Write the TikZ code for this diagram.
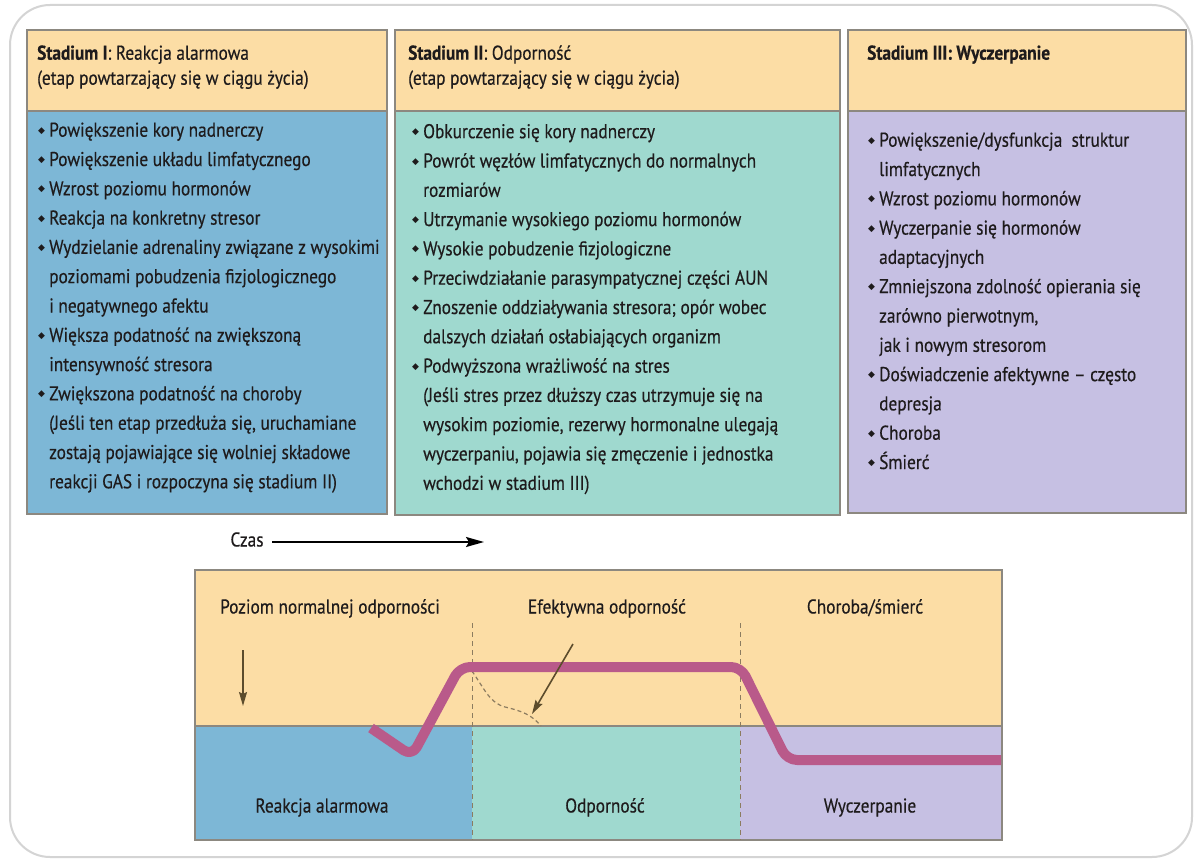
\documentclass[tikz,border=0pt]{standalone}
\usepackage{fontspec}
\setmainfont{PT Sans}[FakeStretch=0.865,FakeBold=0.4]
\newfontfamily\symfont{DejaVu Sans}
\usetikzlibrary{arrows.meta}
\definecolor{hdr}{RGB}{252,221,165}
\definecolor{blueA}{RGB}{125,183,214}
\definecolor{tealB}{RGB}{159,217,207}
\definecolor{lavC}{RGB}{198,192,227}
\definecolor{bord}{RGB}{140,136,128}
\definecolor{frameC}{RGB}{212,212,212}
\definecolor{pinkC}{RGB}{185,90,138}
\definecolor{brownC}{RGB}{92,76,44}
\definecolor{dashC}{RGB}{140,124,96}
\definecolor{txt}{RGB}{30,27,28}
\newcommand{\bul}{\makebox[11pt][l]{\raisebox{3.5pt}{\symfont\fontsize{9}{9}\selectfont ◆}}}
\newcommand{\ind}{\hspace*{11pt}}
\newcommand{\st}{\rule{0pt}{16pt}}
\begin{document}
\begin{tikzpicture}[x=1pt,y=-1pt,
  boxline/.style={draw=bord,line width=1.2pt},
  bodytext/.style={anchor=north west,inner sep=0pt,align=left,text=txt,
    font=\fontsize{20}{29.3}\selectfont},
  hdrtext/.style={anchor=north west,inner sep=0pt,align=left,text=txt,
    font=\fontsize{20}{25}\selectfont},
  lbl/.style={anchor=base,inner sep=0pt,text=txt,font=\fontsize{20}{22}\selectfont},
  vdash/.style={draw=dashC,line width=1pt,dash pattern=on 5pt off 4pt},
  pointer/.style={draw=brownC,line width=1.6pt,-{Stealth[length=14pt,width=8pt,inset=2pt]}}
]
\useasboundingbox (0,0) rectangle (1195,859);
\fill[white] (0,0) rectangle (1195,859);
\draw[frameC,line width=2pt,rounded corners=40pt] (10,5) rectangle (1192,857);

% top boxes
\filldraw[boxline,fill=hdr] (27,30) rectangle (387,111);
\filldraw[boxline,fill=blueA] (27,111) rectangle (387,514);
\filldraw[boxline,fill=hdr] (395,30) rectangle (840,111);
\filldraw[boxline,fill=tealB] (395,111) rectangle (840,515);
\filldraw[boxline,fill=hdr] (848,30) rectangle (1186,111);
\filldraw[boxline,fill=lavC] (848,111) rectangle (1186,513);

\node[hdrtext] (h1) at (37,43.5) {\st\textbf{Stadium I}: Reakcja alarmowa\\(etap powtarzający się w ciągu życia)};
\node[hdrtext] (h2) at (408,43.5) {\st\textbf{Stadium II}: Odporność\\(etap powtarzający się w ciągu życia)};
\node[hdrtext] (h3) at (867,43.5) {\st\textbf{Stadium III: Wyczerpanie}};

\node[bodytext] (b1) at (38,120.5) {\st\bul Powiększenie kory nadnerczy\\
\bul Powiększenie układu limfatycznego\\
\bul Wzrost poziomu hormonów\\
\bul Reakcja na konkretny stresor\\
\bul Wydzielanie adrenaliny związane z wysokimi\\
\ind poziomami pobudzenia fizjologicznego\\
\ind i negatywnego afektu\\
\bul Większa podatność na zwiększoną\\
\ind intensywność stresora\\
\bul Zwiększona podatność na choroby\\
\ind (Jeśli ten etap przedłuża się, uruchamiane\\
\ind zostają pojawiające się wolniej składowe\\
\ind reakcji GAS i rozpoczyna się stadium II)};

\node[bodytext] (b2) at (412,122) {\st\bul Obkurczenie się kory nadnerczy\\
\bul Powrót węzłów limfatycznych do normalnych\\
\ind rozmiarów\\
\bul Utrzymanie wysokiego poziomu hormonów\\
\bul Wysokie pobudzenie fizjologiczne\\
\bul Przeciwdziałanie parasympatycznej części AUN\\
\bul Znoszenie oddziaływania stresora; opór wobec\\
\ind dalszych działań osłabiających organizm\\
\bul Podwyższona wrażliwość na stres\\
\ind (Jeśli stres przez dłuższy czas utrzymuje się na\\
\ind wysokim poziomie, rezerwy hormonalne ulegają\\
\ind wyczerpaniu, pojawia się zmęczenie i jednostka\\
\ind wchodzi w stadium III)};

\node[bodytext] (b3) at (868,130.5) {\st\bul Powiększenie/dysfunkcja\ \ struktur\\
\ind limfatycznych\\
\bul Wzrost poziomu hormonów\\
\bul Wyczerpanie się hormonów\\
\ind adaptacyjnych\\
\bul Zmniejszona zdolność opierania się\\
\ind zarówno pierwotnym,\\
\ind jak i nowym stresorom\\
\bul Doświadczenie afektywne – często\\
\ind depresja\\
\bul Choroba\\
\bul Śmierć};

% time arrow
\node[lbl] (czas) at (247,546.5) {Czas};
\coordinate (czasend) at (484,542);
\draw[line width=1.8pt,black,-{Stealth[length=18pt,width=10pt,inset=3pt]}] (272,542) -- (czasend);

% chart
\fill[hdr] (195,570) rectangle (1002,726);
\fill[blueA] (195,726) rectangle (472,840);
\fill[tealB] (472,726) rectangle (740,840);
\fill[lavC] (740,726) rectangle (1002,840);
\draw[bord,line width=1.2pt] (195,726) -- (1002,726);
\draw[bord,line width=1.2pt] (195,570) rectangle (1002,840);
\draw[vdash] (472,623) -- (472,840);
\draw[vdash] (740,623) -- (740,840);

\node[lbl] (l1) at (330,613.5) {Poziom normalnej odporności};
\node[lbl] (l2) at (607,613.5) {Efektywna odporność};
\node[lbl] (l3) at (865,613.5) {Choroba/śmierć};
\node[lbl] (l4) at (322,812.5) {Reakcja alarmowa};
\node[lbl] (l5) at (605,812.5) {Odporność};
\node[lbl] (l6) at (870,812.5) {Wyczerpanie};

% dashed decline curve
\draw[dashC,line width=1.2pt,dash pattern=on 4pt off 3pt] (472,671) .. controls (485,690) and (490,703) .. (505,707) .. controls (522,711) and (532,715) .. (541,726);

% pink curve
\draw[pinkC,line width=10pt,rounded corners=10pt,line join=round] (371,728) -- (412,756) -- (460,667) -- (741,667) -- (787,760) -- (1001,760);

% pointers
\coordinate (dA) at (243,650);
\coordinate (dB) at (243,706);
\draw[pointer] (dA) -- (dB);
\coordinate (eA) at (573,644);
\coordinate (eB) at (532,714);
\draw[pointer] (eA) -- (eB);
\end{tikzpicture}
\end{document}
